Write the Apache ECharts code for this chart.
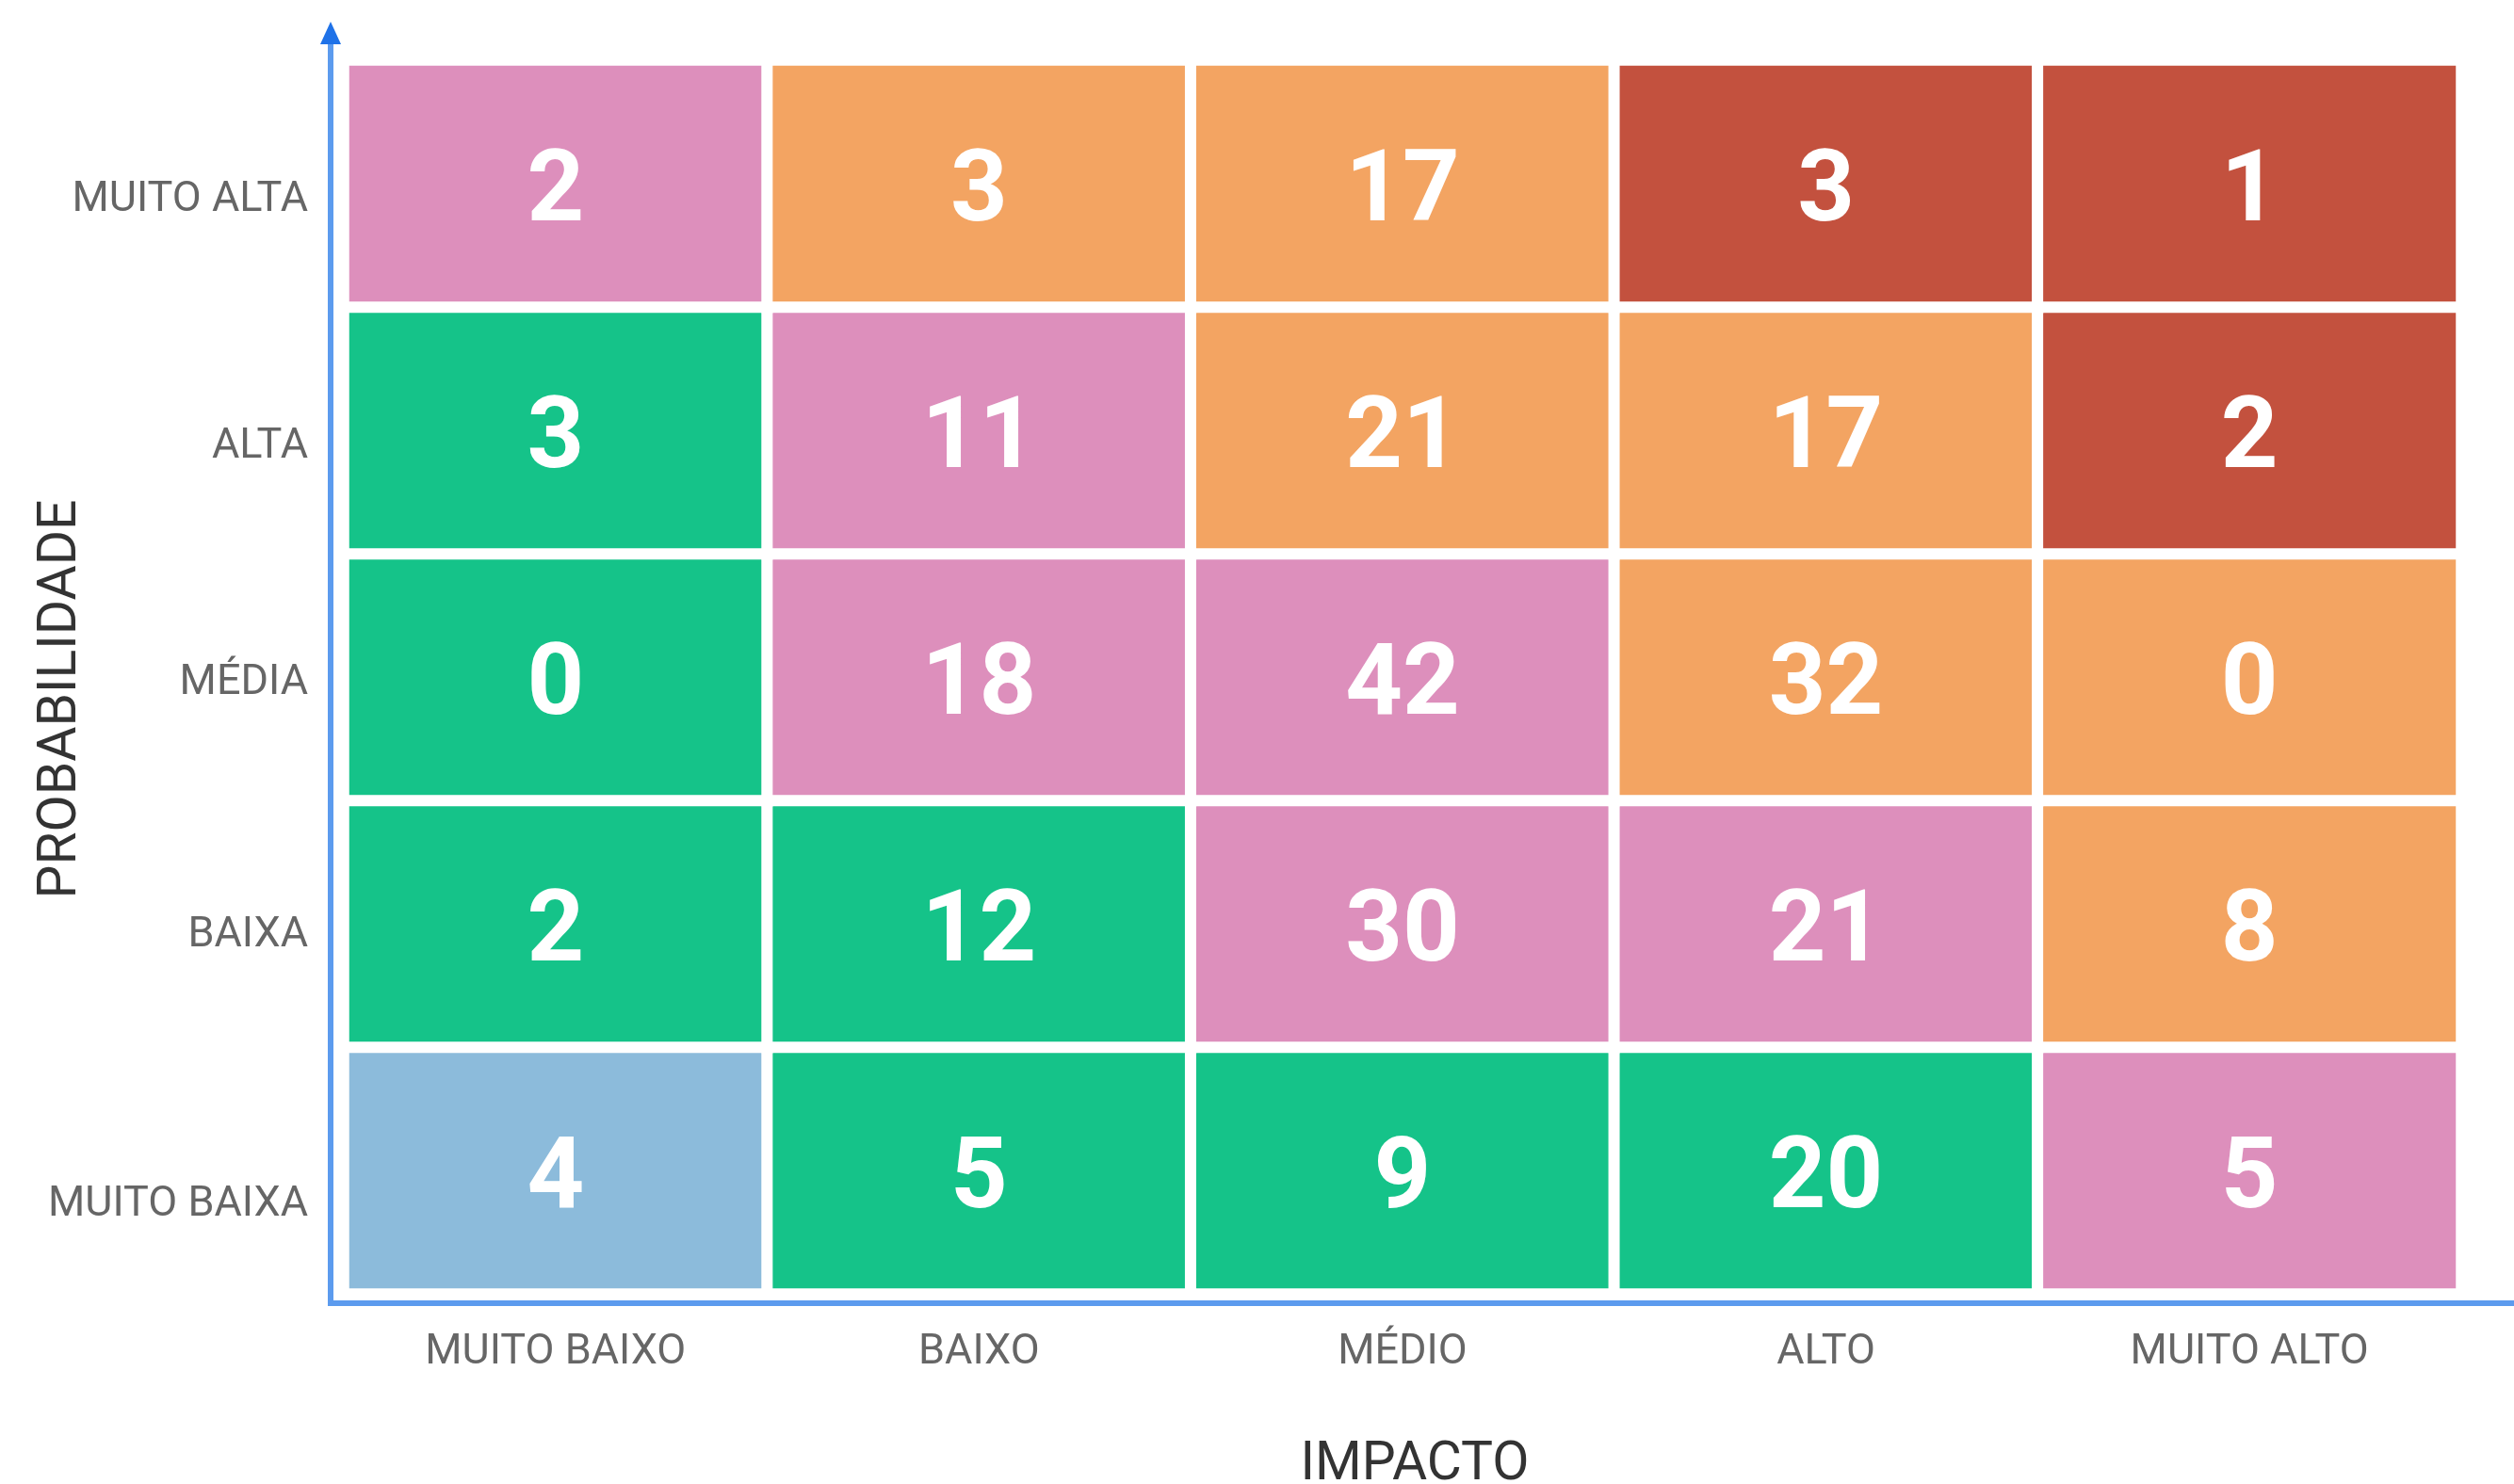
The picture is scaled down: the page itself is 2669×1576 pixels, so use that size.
<!DOCTYPE html>
<html>
<head>
<meta charset="utf-8">
<title>Matriz de riscos</title>
<script src="https://cdn.jsdelivr.net/npm/echarts@6/dist/echarts.min.js"></script>
<style>
	html, body { margin: 0; padding: 0; background: #fff; }
	#app_chart { width: 2669px; height: 1576px; }
</style>
</head>
<body>
<div id="app_chart"></div>
<script>
	// categorias dos eixos (probabilidade de baixo para cima)
	var impactos = ['MUITO BAIXO', 'BAIXO', 'MÉDIO', 'ALTO', 'MUITO ALTO'];
	var probabilidades = ['MUITO BAIXA', 'BAIXA', 'MÉDIA', 'ALTA', 'MUITO ALTA'];

	// quantidade de riscos por linha de probabilidade
	var qtdMuitoBaixa = [4, 5, 9, 20, 5];
	var qtdBaixa = [2, 12, 30, 21, 8];
	var qtdMedia = [0, 18, 42, 32, 0];
	var qtdAlta = [3, 11, 21, 17, 2];
	var qtdMuitoAlta = [2, 3, 17, 3, 1];

	// nível de risco de cada célula: 0 muito baixo ... 4 muito alto
	var nivelMuitoBaixa = [0, 1, 1, 1, 2];
	var nivelBaixa = [1, 1, 2, 2, 3];
	var nivelMedia = [1, 2, 2, 3, 3];
	var nivelAlta = [1, 2, 3, 3, 4];
	var nivelMuitoAlta = [2, 3, 3, 4, 4];

	var corNivel = ['#8CBBDB', '#15C389', '#DD8FBC', '#F3A462', '#C3513E'];
	// deslocamento vertical dos rótulos do eixo Y (como no original)
	var desceRotulo = [37, 13, 7, 18, 18];

	(function() {
		var qtd = [qtdMuitoBaixa, qtdBaixa, qtdMedia, qtdAlta, qtdMuitoAlta];
		var nivel = [nivelMuitoBaixa, nivelBaixa, nivelMedia, nivelAlta, nivelMuitoAlta];
		var dados = [];
		for (var y = 0; y < qtd.length; y++) {
			for (var x = 0; x < qtd[y].length; x++) {
				dados.push([x, y, qtd[y][x], nivel[y][x]]);
			}
		}

		var richY = {};
		for (var i = 0; i < desceRotulo.length; i++) {
			richY['r' + i] = { padding: [desceRotulo[i] * 2, 0, 0, 0] };
		}

		var fonte = 'Roboto';
		var corEixo = '#5C9BEE';
		var eixoVazio = {
			axisTick: { show: false },
			axisLabel: { show: false },
			splitLine: { show: false }
		};

		var option = {
			backgroundColor: '#fff',
			animation: false,
			grid: [
				{ left: 365, right: 56, top: 64, bottom: 202, outerBoundsMode: 'none' },
				{ left: 351, right: 0, top: 35, bottom: 192, outerBoundsMode: 'none' }
			],
			xAxis: [{
				type: 'category',
				gridIndex: 0,
				data: impactos,
				axisLine: { show: false },
				axisTick: { show: false },
				splitArea: { show: false },
				axisLabel: { margin: 40, color: '#666', fontSize: 45, fontFamily: fonte }
			}, echarts.util.merge({
				type: 'value',
				gridIndex: 1,
				min: 0,
				max: 1,
				name: 'IMPACTO',
				nameLocation: 'middle',
				nameGap: 144,
				nameTextStyle: { color: '#333', fontSize: 57, fontFamily: fonte, padding: [0, 16, 0, 0] },
				axisLine: { lineStyle: { color: corEixo, width: 6, cap: 'square' } }
			}, eixoVazio)],
			yAxis: [{
				type: 'category',
				gridIndex: 0,
				data: probabilidades,
				axisLine: { show: false },
				axisTick: { show: false },
				splitArea: { show: false },
				axisLabel: {
					margin: 38,
					color: '#666',
					fontSize: 45,
					fontFamily: fonte,
					formatter: function(value, index) {
						return '{r' + index + '|' + value + '}';
					},
					rich: richY
				}
			}, echarts.util.merge({
				type: 'value',
				gridIndex: 1,
				position: 'left',
				min: 0,
				max: 1,
				name: 'PROBABILIDADE',
				nameLocation: 'middle',
				nameGap: 257,
				nameTextStyle: { color: '#333', fontSize: 57, fontFamily: fonte, padding: [0, 66, 0, 0] },
				axisLine: { lineStyle: { color: corEixo, width: 6, cap: 'square' } }
			}, eixoVazio), echarts.util.merge({
				// só a ponta da seta, num azul mais escuro
				type: 'value',
				gridIndex: 1,
				position: 'left',
				min: 0,
				max: 1,
				axisLine: {
					symbol: ['none', 'triangle'],
					symbolSize: [22, 24],
					lineStyle: { color: '#1F72E8', width: 0 }
				}
			}, eixoVazio)],
			visualMap: {
				type: 'piecewise',
				show: false,
				dimension: 3,
				seriesIndex: 0,
				pieces: corNivel.map(function(c, n) { return { value: n, color: c }; })
			},
			series: [{
				type: 'heatmap',
				xAxisIndex: 0,
				yAxisIndex: 0,
				z: 1,
				data: dados,
				itemStyle: { borderColor: '#fff', borderWidth: 12 },
				emphasis: { disabled: true },
				label: {
					show: true,
					color: '#fff',
					fontSize: 106,
					fontWeight: 'bold',
					fontFamily: fonte,
					offset: [0, 12],
					formatter: function(p) { return p.value[2]; }
				}
			}]
		};

		var myChart = echarts.init(document.getElementById('app_chart'));
		myChart.setOption(option);
	})();
</script>
</body>
</html>
